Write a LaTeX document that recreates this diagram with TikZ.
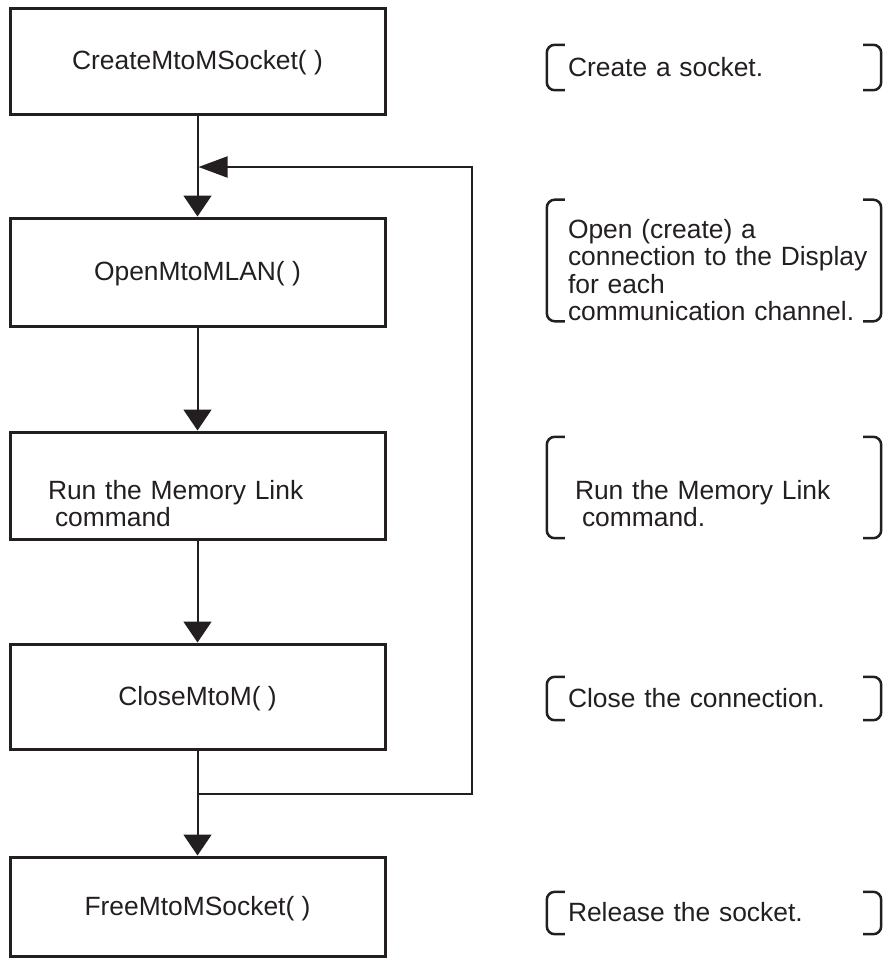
\documentclass[tikz,border=0pt]{standalone}
\usepackage{fontspec}
\setmainfont{Liberation Sans}
\usetikzlibrary{arrows.meta}
\definecolor{ink}{HTML}{231F20}
\newcommand{\brkpair}[1]{%
  \draw[brkline] ([xshift=18pt]#1.north west) -- (#1.north west) -- (#1.south west) -- ([xshift=18pt]#1.south west);
  \draw[brkline] ([xshift=-18pt]#1.north east) -- (#1.north east) -- (#1.south east) -- ([xshift=-18pt]#1.south east);}
\newcommand{\lift}[1]{\rule{0pt}{#1}}
\begin{document}
\begin{tikzpicture}[x=1pt,y=-1pt,
  every node/.style={font=\fontsize{26.4pt}{30pt}\selectfont, text=ink},
  oneline/.style={text height=20pt, text depth=3pt},
  stepbox/.style={draw=ink, line width=3pt, minimum width=375pt, inner sep=0pt},
  note/.style={minimum width=334pt, inner sep=0pt, text width=292pt, align=left},
  brkline/.style={draw=ink, line width=2.5pt, rounded corners=8pt},
  conn/.style={draw=ink, line width=2pt, -{Triangle[length=21pt,width=28pt]}},
  back/.style={draw=ink, line width=2pt, -{Triangle[length=29pt,width=21pt]}}]
\useasboundingbox (0,0) rectangle (885,959);
% boxes
\node[stepbox, oneline, minimum height=106pt] (b1) at (197.5,61) {CreateMtoMSocket( )};
\node[stepbox, oneline, minimum height=108pt] (b2) at (197.5,272) {OpenMtoMLAN( )};
\node[stepbox, minimum height=107pt, text width=299pt, align=left, inner xsep=38pt,
      font=\fontsize{26.4pt}{27pt}\selectfont] (b3) at (197.5,485.5) {\lift{55pt}Run the Memory Link\\\hspace*{7pt}command};
\node[stepbox, oneline, minimum height=105pt] (b4) at (197.5,696.5) {CloseMtoM( )};
\node[stepbox, oneline, minimum height=99pt] (b5) at (197.5,906.5) {FreeMtoMSocket( )};
% notes
\node[note, oneline, minimum height=45pt] (c1) at (714,67.5) {Create a socket.};
\node[note, minimum height=111pt, font=\fontsize{26.4pt}{27.5pt}\selectfont] (c2) at (714,260.5)
  {\lift{38.5pt}Open (create) a\\\mbox{connection to the Display}\\for each\\\mbox{communication channel.}};
\node[note, minimum height=101pt, font=\fontsize{26.4pt}{27pt}\selectfont] (c3) at (714,487.5)
  {\lift{51pt}\hspace*{7pt}Run the Memory Link\\\hspace*{14pt}command.};
\node[note, oneline, minimum height=43pt] (c4) at (714,698.5) {Close the connection.};
\node[note, oneline, minimum height=42pt] (c5) at (714,913) {Release the socket.};
\brkpair{c1}
\brkpair{c2}
\brkpair{c3}
\brkpair{c4}
\brkpair{c5}
% connectors
\coordinate (ja) at (197.5,167);
\coordinate (lt) at (472,167);
\coordinate (lb) at (472,794);
\coordinate (jn) at (197.5,794);
\draw[conn] (b1.south) -- (b2.north);
\draw[conn] (b2.south) -- (b3.north);
\draw[conn] (b3.south) -- (b4.north);
\draw[conn] (b4.south) -- (b5.north);
\draw[back] (jn) -- (lb) -- (lt) -- ([xshift=1pt]ja);
\end{tikzpicture}
\end{document}
